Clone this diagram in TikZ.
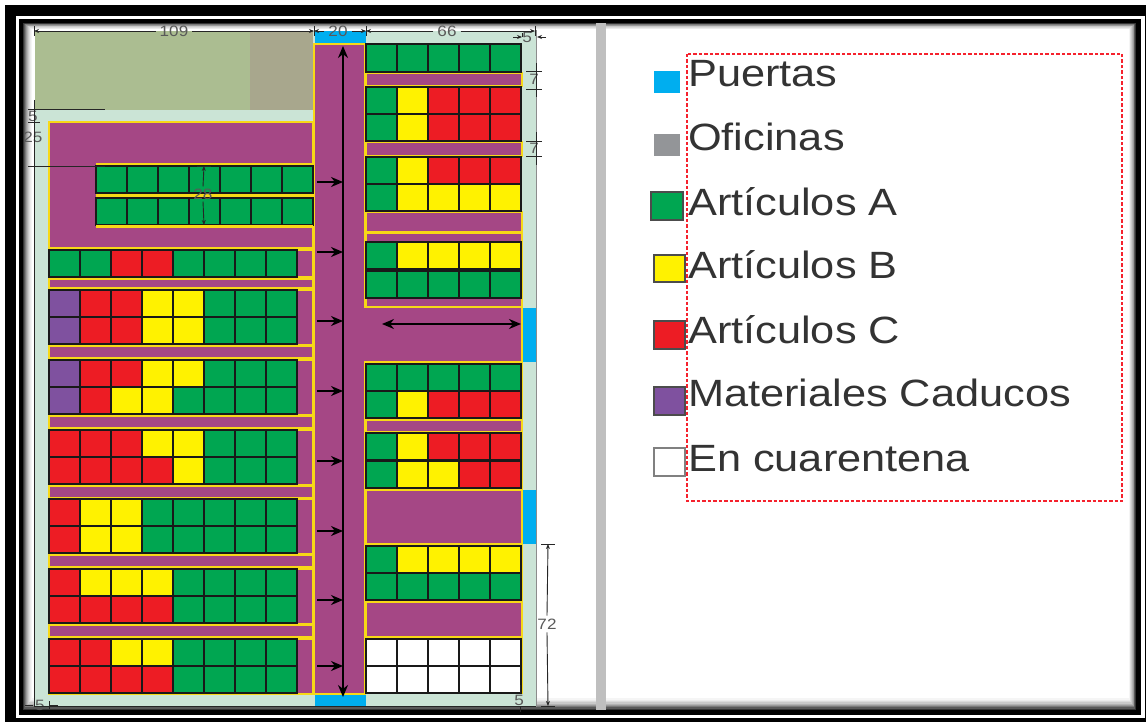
\documentclass[tikz,border=0pt]{standalone}
\usepackage{fontspec}
\setmainfont{Liberation Sans}
\newfontfamily\widefont[FakeStretch=1.14]{Liberation Sans}
\usepackage{xcolor}
\usetikzlibrary{arrows.meta}

\definecolor{gA}{HTML}{00A651}
\definecolor{gB}{HTML}{FFF200}
\definecolor{gC}{HTML}{ED1C24}
\definecolor{gM}{HTML}{7F519F}
\definecolor{gW}{HTML}{FFFFFF}
\definecolor{aisle}{HTML}{A54785}
\definecolor{rim}{HTML}{F7D917}
\definecolor{floorarea}{HTML}{CBE4D6}
\definecolor{door}{HTML}{00AEEF}
\definecolor{ink}{HTML}{333333}
\definecolor{yardA}{HTML}{ABBD91}
\definecolor{yardB}{HTML}{A8A78D}
\definecolor{office}{HTML}{939598}
\definecolor{dashred}{HTML}{F5222D}

\tikzset{
    cell/.style={draw=black!90, line width=1.2pt},
    block/.style={draw=rim, fill=aisle, line width=2.2pt},
    rimline/.style={draw=rim, line width=2.2pt},
    keybox/.style={draw=black!70, line width=1.3pt},
    flow/.style={-{Stealth[length=12pt,width=10pt]}, line width=1.5pt, black},
    both/.style={{Stealth[length=12pt,width=10pt]}-{Stealth[length=12pt,width=10pt]}, line width=1.5pt, black},
    dim/.style={line width=0.9pt, black!85},
    dimend/.style={-{Stealth[length=5pt,width=4pt]}, line width=0.9pt, black!85},
    dimtext/.style={text=black!65, font=\widefont\fontsize{15}{15}\selectfont, inner sep=0pt},
    legend/.style={text=ink, font=\widefont\fontsize{38}{38}\selectfont, anchor=base west, inner sep=0pt}
}

\newcommand{\cw}{31}
% one row of shelf cells: x, y top, height, colours
\newcommand{\shelf}[4]{
    \foreach \c [count=\i from 0] in {#4} {
        \draw[cell, fill=\c] ({#1+\cw*\i},#2) rectangle ++(\cw,#3);
    }
}

\begin{document}
\begin{tikzpicture}[x=1pt, y=-1pt]
\useasboundingbox (0,0) rectangle (1146,722);

% Frame
\fill[white] (0,0) rectangle (1146,722);
\fill[black] (5,5) rectangle (1146,722);
\fill[white] (16,16) rectangle (1145,718);
\fill[black] (19,19) rectangle (1141,715);
\foreach \i/\g in {0/80,1/65,2/52,3/40,4/30,5/21,6/14,7/8,8/4,9/0} {
    \fill[black!\g!white] ({23+\i},{23+0.7*\i}) rectangle ({1136-0.8*\i},{710-1.3*\i});
}

% Floor
\fill[floorarea] (35,31) rectangle (536,707);
\fill[yardA] (35,31) rectangle (250,110);
\fill[yardB] (250,31) rectangle (313,110);
\draw[black!45, line width=1pt] (536,30) -- (536,707);
\fill[black!25] (596,23) rectangle (606,710);

% Doors
\fill[door] (315,31) rectangle (366,43);
\fill[door] (315,695) rectangle (366,707);
\fill[door] (523,308) rectangle (536,362);
\fill[door] (523,490) rectangle (536,544);

% Left blocks
\draw[block] (49,122) rectangle (313,248);
\foreach \a/\b in {250/277, 279/288, 290/345, 346/358, 360/415, 416/428, 430/485, 486/498,
                   499/554, 555/567, 569/624, 625/637, 639/694} {
    \draw[block] (49,\a) rectangle (313,\b);
}

% Central aisle
\draw[block] (314,44) -- (365,44) -- (365,307) -- (522,307) -- (522,362) -- (365,362)
    -- (365,694) -- (314,694) -- cycle;

% Right blocks
\foreach \a/\b in {73/86, 142/156, 212/232, 233/307, 420/432, 490/544, 602/637} {
    \draw[block] (366,\a) rectangle (522,\b);
}
\draw[rimline] (522,363) -- (522,694);
\draw[rimline] (366,363) -- (522,363);

% Upper rack
\draw[rimline] (96,164) -- (313,164);
\shelf{96}{166}{27}{gA,gA,gA,gA,gA,gA,gA}
\draw[rim, line width=3.5pt] (96,195.5) -- (313,195.5);
\shelf{96}{198}{27}{gA,gA,gA,gA,gA,gA,gA}
\draw[rimline] (96,226.5) -- (313,226.5);

% Left rows
\shelf{49}{250}{27}{gA,gA,gC,gC,gA,gA,gA,gA}
\shelf{49}{290}{27}{gM,gC,gC,gB,gB,gA,gA,gA}
\shelf{49}{317}{27}{gM,gC,gC,gB,gB,gA,gA,gA}
\shelf{49}{360}{27}{gM,gC,gC,gB,gB,gA,gA,gA}
\shelf{49}{387}{27}{gM,gC,gB,gB,gA,gA,gA,gA}
\shelf{49}{430}{27}{gC,gC,gC,gB,gB,gA,gA,gA}
\shelf{49}{457}{27}{gC,gC,gC,gC,gB,gA,gA,gA}
\shelf{49}{499}{27}{gC,gB,gB,gA,gA,gA,gA,gA}
\shelf{49}{526}{27}{gC,gB,gB,gA,gA,gA,gA,gA}
\shelf{49}{569}{27}{gC,gB,gB,gB,gA,gA,gA,gA}
\shelf{49}{596}{27}{gC,gC,gC,gC,gA,gA,gA,gA}
\shelf{49}{639}{27}{gC,gC,gB,gB,gA,gA,gA,gA}
\shelf{49}{666}{27}{gC,gC,gC,gC,gA,gA,gA,gA}

% Right rows
\shelf{366}{44}{28}{gA,gA,gA,gA,gA}
\shelf{366}{87}{27}{gA,gB,gC,gC,gC}
\shelf{366}{114}{27}{gA,gB,gC,gC,gC}
\shelf{366}{157}{27}{gA,gB,gC,gC,gC}
\shelf{366}{184}{27}{gA,gB,gB,gB,gB}
\shelf{366}{242}{27}{gA,gB,gB,gB,gB}
\shelf{366}{271}{27}{gA,gA,gA,gA,gA}
\shelf{366}{364}{27}{gA,gA,gA,gA,gA}
\shelf{366}{391}{27}{gA,gB,gC,gC,gC}
\shelf{366}{433}{27}{gA,gB,gC,gC,gC}
\shelf{366}{461}{27}{gA,gB,gB,gC,gC}
\shelf{366}{546}{27}{gA,gB,gB,gB,gB}
\shelf{366}{573}{27}{gA,gA,gA,gA,gA}
\shelf{366}{639}{27}{gW,gW,gW,gW,gW}
\shelf{366}{666}{27}{gW,gW,gW,gW,gW}

% Flow arrows
\coordinate (north) at (343,46);
\coordinate (south) at (343,697);
\draw[both] (north) -- (south);
\foreach \y in {182,252,321,391,461,531,600,666} {
    \draw[flow] (317,\y) -- (343,\y);
}
\coordinate (dockin) at (382,324);
\coordinate (dockout) at (521,324);
\draw[both] (dockin) -- (dockout);

% Dimensions
\node[dimtext] (d109) at (174,31) {109};
\node[dimtext] (d20) at (338,31) {20};
\node[dimtext] (d66) at (447,31) {66};
\node[dimtext] (d5a) at (527,37) {5};
\node[dimtext] (d5b) at (33,116) {5};
\node[dimtext] (d25) at (33,137) {25};
\node[dimtext] (d28) at (203,194) {28};
\node[dimtext] (d7a) at (534,79) {7};
\node[dimtext] (d7b) at (534,148) {7};
\node[dimtext] (d72) at (547,624) {72};
\node[dimtext] (d5c) at (40,705) {5};
\node[dimtext] (d5d) at (519,700) {5};

\coordinate (top0) at (34,31);
\coordinate (top1) at (314,31);
\coordinate (top2) at (366,31);
\coordinate (top3) at (535,31);
\draw[dimend] (d109.west) ++(-4,0) -- (top0);
\draw[dimend] (d109.east) ++(4,0) -- (top1);
\draw[dimend] (d20.west) ++(-4,0) -- (top1);
\draw[dimend] (d20.east) ++(4,0) -- (top2);
\draw[dimend] (d66.west) ++(-4,0) -- (top2);
\draw[dimend] (d66.east) ++(4,0) -- (top3);
\draw[dim] (34,26) -- (34,36) (314,26) -- (314,36) (366,26) -- (366,36) (535,26) -- (535,36);
\draw[dimend] (513,37) -- (522,37);
\draw[dimend] (546,37) -- (537,37);
\draw[dim] (522,33) -- (522,37);

\draw[dim] (34,100) -- (34,706) -- (536,706);
\draw[dim] (28,109) -- (105,109) (28,122) -- (40,122) (28,166) -- (105,166);
\draw[dim] (25,705) -- (33,705) (50,705) -- (58,705) (49,701) -- (49,709);

\coordinate (rack0) at (204,166);
\coordinate (rack1) at (204,225);
\draw[dimend] (d28.north) ++(0,-2) -- (rack0);
\draw[dimend] (d28.south) ++(0,2) -- (rack1);
\draw[dim] (197,166) -- (211,166);

\draw[dim] (526,71) -- (542,71) (526,89) -- (542,89) (536,63) -- (536,97);
\draw[dim] (526,141) -- (542,141) (526,156) -- (542,156) (536,132) -- (536,165);

\draw[dim] (541,544) -- (555,544) (541,706) -- (555,706);
\coordinate (aisle0) at (548,544);
\coordinate (aisle1) at (548,706);
\draw[dimend] (d72.north) ++(0,-3) -- (aisle0);
\draw[dimend] (d72.south) ++(0,3) -- (aisle1);
\draw[dim] (520,685) -- (520,693) (520,707) -- (520,712);

% Legend
\fill[door] (654,71) rectangle (680,93);
\fill[office] (654,134) rectangle (680,156);
\draw[keybox, fill=gA] (651,192) rectangle (683,220);
\draw[keybox, fill=gB] (654,255) rectangle (685,282);
\draw[keybox, fill=gC] (654,321) rectangle (685,349);
\draw[keybox, fill=gM] (654,387) rectangle (685,415);
\draw[keybox, draw=black!50, fill=gW] (654,448) rectangle (685,476);

\node[legend] (puertas) at (688,87) {Puertas};
\node[legend] (oficinas) at (688,151) {Oficinas};
\node[legend] (arta) at (688,216) {Artículos A};
\node[legend] (artb) at (688,279) {Artículos B};
\node[legend] (artc) at (688,343) {Artículos C};
\node[legend] (caducos) at (688,406) {Materiales Caducos};
\node[legend] (cuarentena) at (688,471) {En cuarentena};

\draw[draw=dashred, line width=1.2pt, dash pattern=on 3.5pt off 2pt] (687,54) rectangle (1122,501);

\end{tikzpicture}
\end{document}
